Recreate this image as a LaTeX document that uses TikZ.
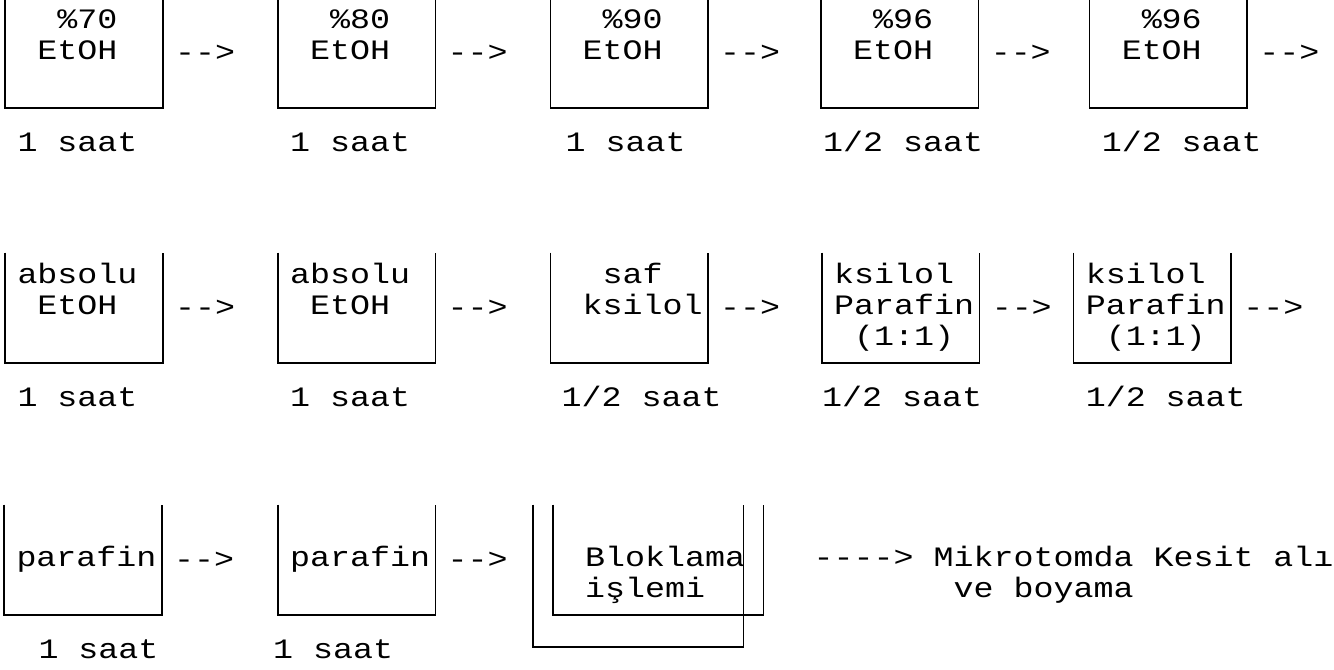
\documentclass[tikz,border=0pt]{standalone}
\usepackage{fontspec}
\setmonofont[FakeStretch=1.185, WordSpace={1,0,0}]{Liberation Mono}
\usepackage{tikz}
\usetikzlibrary{positioning,calc}
\newcommand{\blank}{\hphantom{0}}

\begin{document}
\begin{tikzpicture}[
  font=\ttfamily\fontsize{20}{22}\selectfont,
  note/.style={align=left, minimum height=2.75cm, inner xsep=0.3cm, inner ysep=0pt,
               execute at begin node=\strut, execute at end node=\strut},
  cup/.style={note, text width=3.325cm},
  wide/.style={note, text width=4.65cm},
  arrtxt/.style={inner sep=0pt},
  lbl/.style={anchor=base west, inner sep=0pt},
  wall/.style={line width=1.2pt},
]
\useasboundingbox (0,0) rectangle (33.35,-16.75);

% row 1: alcohol series
\node[cup] (b11) at (2.1,-1.325) {\blank\blank\%70\\\blank EtOH\\};
\node[cup, right=2.875cm of b11] (b12) {\blank\blank\%80\\\blank EtOH\\};
\node[cup, right=2.875cm of b12] (b13) {\blank\blank\%90\\\blank EtOH\\};
\node[cup, right=2.825cm of b13] (b14) {\blank\blank\%96\\\blank EtOH\\};
\node[cup, right=2.775cm of b14] (b15) {\blank\blank\%96\\\blank EtOH\\};

% row 2: absolute alcohol, xylene
\node[cup] (b21) at (2.1,-7.7) {absolu\\\blank EtOH\\};
\node[cup, right=2.875cm of b21] (b22) {absolu\\\blank EtOH\\};
\node[cup, right=2.875cm of b22] (b23) {\blank\blank saf\\\blank ksilol\\};
\node[cup, right=2.85cm of b23] (b24) {ksilol\\Parafin\\\blank(1:1)};
\node[cup, right=2.35cm of b24] (b25) {ksilol\\Parafin\\\blank(1:1)};

% row 3: paraffin, blocking
\node[cup] (b31) at (2.075,-14.0) {\\parafin\\};
\node[cup, right=2.9cm of b31] (b32) {\\parafin\\};
\node[wide, right=2.9375cm of b32] (b33) {\\\blank Bloklama\\\blank işlemi};
\node[wide, minimum height=3.55cm, anchor=north] (b33b) at ($(b33.north)+(-0.5,0)$) {};
\node[note, inner xsep=0pt, text width=13.4cm, right=1.25cm of b33] (mikro)
  {\\---->\blank Mikrotomda\blank Kesit\blank alı\\\blank\blank\blank\blank\blank\blank\blank ve\blank boyama};

\foreach \b in {b11,b12,b13,b14,b15,b21,b22,b23,b24,b25,b31,b32,b33,b33b}
  \draw[wall] (\b.north west) |- (\b.south east) -- (\b.north east);

\foreach \b in {b11,b12,b13,b14,b15,b21,b22,b23,b24,b25,b31,b32}
  \node[arrtxt, right=0.3cm of \b] (a\b) {-->};

% times
\node[lbl] (t11) at ($(b11.south west)+(0.3,-1.075)$) {1 saat};
\node[lbl] (t12) at ($(b12.south west)+(0.3,-1.075)$) {1 saat};
\node[lbl] (t13) at ($(b13.south west)+(0.375,-1.075)$) {1 saat};
\node[lbl] (t14) at ($(b14.south west)+(0.05,-1.075)$) {1/2 saat};
\node[lbl] (t15) at ($(b15.south west)+(0.3,-1.075)$) {1/2 saat};
\node[lbl] (t21) at ($(b21.south west)+(0.3,-1.075)$) {1 saat};
\node[lbl] (t22) at ($(b22.south west)+(0.3,-1.075)$) {1 saat};
\node[lbl] (t23) at ($(b23.south west)+(0.275,-1.075)$) {1/2 saat};
\node[lbl] (t24) at ($(b24.south west)+(0,-1.075)$) {1/2 saat};
\node[lbl] (t25) at ($(b25.south west)+(0.3,-1.075)$) {1/2 saat};
\node[lbl] (t31) at ($(b31.south west)+(0.85,-1.075)$) {1 saat};
\node[lbl] (t32) at ($(b32.south west)+(-0.125,-1.075)$) {1 saat};
\end{tikzpicture}
\end{document}
